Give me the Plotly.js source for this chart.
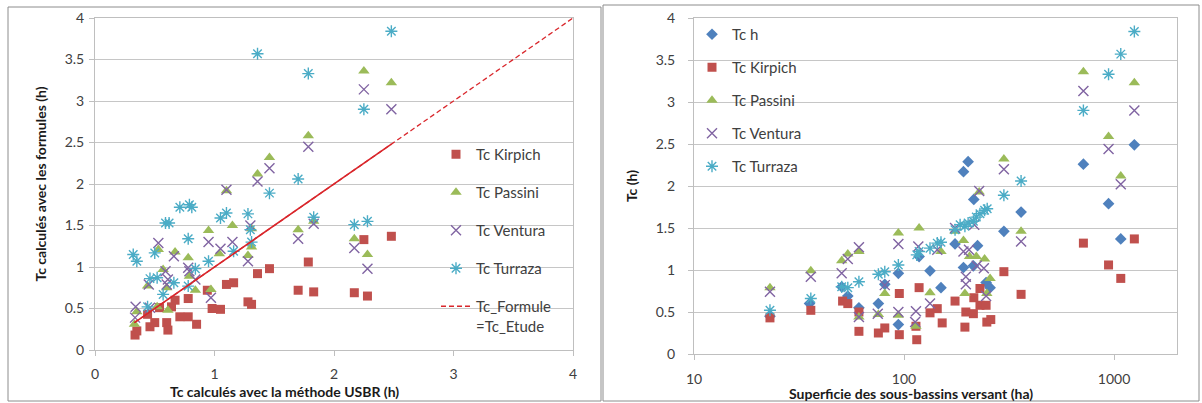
<!DOCTYPE html>
<html>
<head>
<meta charset="utf-8">
<script src="https://cdn.plot.ly/plotly-3.0.1.min.js"></script>
<style>html,body{margin:0;padding:0;background:#fff;}#chart{width:1202px;height:403px;}</style>
</head>
<body>
<div id="chart"></div>
<script>
// ---------- Left panel: Tc from formulas vs Tc USBR (h) ----------
const kirpichL_x = [0.335,0.35,0.44,0.46,0.50,0.54,0.60,0.61,0.64,0.67,0.71,0.78,0.78,0.85,0.94,0.98,1.05,1.10,1.16,1.28,1.31,1.36,1.46,1.70,1.785,1.83,2.17,2.25,2.28,2.48];
const kirpichL_y = [0.18,0.23,0.43,0.28,0.33,0.51,0.33,0.24,0.52,0.60,0.40,0.40,0.62,0.31,0.72,0.50,0.49,0.79,0.81,0.58,0.55,0.92,0.98,0.72,1.06,0.70,0.69,1.33,0.65,1.37];

const passiniL_x = [0.33,0.35,0.44,0.52,0.53,0.57,0.60,0.61,0.67,0.78,0.79,0.84,0.95,0.97,1.04,1.10,1.15,1.28,1.31,1.31,1.36,1.46,1.70,1.785,1.83,2.17,2.25,2.28,2.48];
const passiniL_y = [0.31,0.46,0.77,0.52,1.21,0.97,0.75,0.48,1.18,1.11,0.89,0.72,1.44,0.73,1.16,1.92,1.50,1.14,1.24,1.46,2.12,2.32,1.45,2.58,1.55,1.34,3.36,1.15,3.22];

const venturaL_x = [0.335,0.34,0.45,0.46,0.53,0.59,0.60,0.61,0.66,0.78,0.79,0.84,0.95,0.97,1.05,1.10,1.15,1.28,1.30,1.36,1.46,1.70,1.785,1.83,2.17,2.25,2.28,2.48];
const venturaL_y = [0.39,0.52,0.79,0.51,1.29,0.95,0.79,0.85,1.13,0.99,0.95,0.85,1.30,0.63,1.22,1.93,1.30,1.07,1.50,2.03,2.19,1.34,2.45,1.52,1.23,3.14,0.98,2.90];

const turrazaL_x = [0.32,0.35,0.44,0.46,0.50,0.52,0.57,0.59,0.62,0.66,0.71,0.78,0.78,0.79,0.81,0.84,0.95,1.05,1.10,1.16,1.28,1.30,1.31,1.36,1.46,1.70,1.785,1.83,2.17,2.25,2.28,2.48];
const turrazaL_y = [1.15,1.07,0.52,0.86,1.17,0.87,0.67,1.53,1.53,0.81,1.72,0.77,1.34,1.75,1.72,0.98,1.07,1.59,1.65,1.19,1.64,1.45,1.30,3.57,1.89,2.06,3.33,1.60,1.51,2.90,1.55,3.84];

const lineSolid_x = [0.33, 2.48];
const lineDash_x = [0.33, 4];

// ---------- Right panel: Tc (h) vs sub-basin area (ha) ----------
const tcH_area = [23,35.5,50.5,54,61,75.5,81,94,94,118,133,150,175,192,192,202,214,215,224,246,257,299,361,715,942,1077,1250];
const tcH_val  = [0.45,0.60,0.80,0.69,0.55,0.60,0.83,0.96,0.35,1.16,0.99,0.79,1.31,2.17,1.03,2.29,1.05,1.84,1.29,0.85,0.79,1.46,1.69,2.26,1.79,1.37,2.49];

const kirpichR_area = [23,36,51,54,61,61,75.5,81,95,95,118,114,115,133,144,152,175,195,197,214,215,230,230,246,248,259,299,361,715,942,1077,1250];
const kirpichR_val  = [0.43,0.52,0.63,0.60,0.50,0.27,0.25,0.31,0.72,0.23,0.79,0.33,0.17,0.49,0.54,0.37,0.63,0.32,0.50,0.48,0.67,0.78,0.58,0.58,0.38,0.41,0.98,0.71,1.32,1.06,0.90,1.37];

const passiniR_area = [23,36,50.5,54,61,61,75.5,81,94,94,118,114,133,150,175,192,195,205,221,228,242,248,257,299,361,715,942,1077,1250];
const passiniR_val  = [0.79,0.99,1.11,1.19,1.22,0.44,0.47,0.72,1.44,0.46,1.50,0.33,0.73,1.22,1.46,1.35,0.72,1.16,1.16,1.93,1.13,0.72,0.90,2.32,1.46,3.36,2.59,2.12,3.23];

const venturaR_area = [23,36,50.5,54,61,61,75,81,94,94,117,114,113,133,144,175,192,197,197,204,216,222,228,240,246,299,361,715,942,1077,1250];
const venturaR_val  = [0.74,0.92,0.96,1.13,1.27,0.44,0.48,0.82,1.31,0.50,1.28,0.51,0.38,0.60,1.24,1.50,1.22,0.92,0.83,1.24,1.54,1.05,1.94,1.02,0.69,2.20,1.34,3.13,2.44,2.02,2.90];

const turrazaR_area = [23,36,50.5,54,61,75.5,81,94,115,118,133,144,150,175,185,195,202,214,221,230,242,249,299,361,715,942,1077,1250];
const turrazaR_val  = [0.52,0.66,0.80,0.79,0.86,0.95,0.98,1.06,1.18,1.22,1.26,1.32,1.33,1.48,1.54,1.52,1.56,1.58,1.63,1.67,1.71,1.73,1.89,2.06,2.90,3.33,3.57,3.84];

// ---------- Labels ----------
const legendNames = ["Tc h","Tc Kirpich","Tc Passini","Tc Ventura","Tc Turraza"];
const lineName = "Tc_Formule<br>=Tc_Etude";
const xTitleLeft = "Tc calculés avec la méthode USBR (h)";
const yTitleLeft = "Tc calculés avec les formules (h)";
const xTitleRight = "Superficie des sous-bassins versant (ha)";
const yTitleRight = "Tc (h)";
const logTicks = [10,100,1000];

const C = {h:'#4F81BD', k:'#C0504D', p:'#9BBB59', v:'#8064A2', t:'#4BACC6', line:'#D9262B'};
const FONT = 'Lato, "Open Sans", sans-serif';

function mk(x,y,name,sym,color,size,xa,ya,leg,open){
  const m = {symbol:sym,size:size,color:color};
  if(open){ m.line={color:color,width:1.4}; }
  return {type:'scatter',mode:'markers',x:x,y:y,name:name,xaxis:xa,yaxis:ya,marker:m,
          legend:leg,legendgroup:leg+name,hoverinfo:'x+y'};
}

const traces = [
  mk(kirpichL_x,kirpichL_y,legendNames[1],'square',C.k,9,'x','y','legend',false),
  mk(passiniL_x,passiniL_y,legendNames[2],'triangle-up',C.p,10,'x','y','legend',false),
  mk(venturaL_x,venturaL_y,legendNames[3],'x-thin-open',C.v,10,'x','y','legend',true),
  mk(turrazaL_x,turrazaL_y,legendNames[4],'asterisk-open',C.t,10,'x','y','legend',true),
  {type:'scatter',mode:'lines',x:lineDash_x,y:lineDash_x,name:lineName,xaxis:'x',yaxis:'y',
   line:{color:C.line,width:1.3,dash:'5px,3px'},legend:'legend',legendgroup:'legendline',hoverinfo:'skip'},
  {type:'scatter',mode:'lines',x:lineSolid_x,y:lineSolid_x,showlegend:false,xaxis:'x',yaxis:'y',
   line:{color:C.line,width:1.6},hoverinfo:'skip'},
  mk(tcH_area,tcH_val,legendNames[0],'diamond',C.h,9,'x2','y2','legend2',false),
  mk(kirpichR_area,kirpichR_val,legendNames[1],'square',C.k,9,'x2','y2','legend2',false),
  mk(passiniR_area,passiniR_val,legendNames[2],'triangle-up',C.p,10,'x2','y2','legend2',false),
  mk(venturaR_area,venturaR_val,legendNames[3],'x-thin-open',C.v,10,'x2','y2','legend2',true),
  mk(turrazaR_area,turrazaR_val,legendNames[4],'asterisk-open',C.t,10,'x2','y2','legend2',true)
];

const W=1202,H=403;
const px=v=>v/W, py=v=>1-v/H;
const tickFont={family:FONT,size:14,color:'#404040'};
const titleFont={family:FONT,size:14,color:'#1a1a1a',weight:'bold'};
const axCommon={showline:true,linecolor:'#bfbfbf',linewidth:1,mirror:true,ticks:'outside',ticklen:5,
  tickcolor:'#bfbfbf',tickfont:tickFont,zeroline:false,fixedrange:true,automargin:false};

const layout = {
  width:W,height:H,margin:{l:0,r:0,t:0,b:0},paper_bgcolor:'#fff',plot_bgcolor:'#fff',
  font:{family:FONT},
  xaxis:Object.assign({},axCommon,{domain:[px(95),px(573)],range:[0,4],dtick:1,showgrid:false,anchor:'y',ticklabelstandoff:6}),
  yaxis:Object.assign({},axCommon,{domain:[py(350),py(18)],range:[0,4],dtick:0.5,showgrid:true,gridcolor:'#c6c6c6',anchor:'x',
    ticklabelstandoff:2,title:{text:yTitleLeft,font:titleFont,standoff:14}}),
  xaxis2:Object.assign({},axCommon,{type:'log',domain:[px(694),px(1177)],range:[1,3.3],tickvals:logTicks,ticktext:logTicks.map(String),
    showgrid:false,anchor:'y2',ticklabelstandoff:7}),
  yaxis2:Object.assign({},axCommon,{domain:[py(354),py(18)],range:[0,4],dtick:0.5,showgrid:true,gridcolor:'#c6c6c6',anchor:'x2',
    ticklabelstandoff:10,title:{text:yTitleRight,font:titleFont,standoff:14}}),
  legend:{x:px(436),y:py(138),xanchor:'left',yanchor:'top',bgcolor:'rgba(0,0,0,0)',font:{family:FONT,size:15,color:'#404040'},
    tracegroupgap:15.5,traceorder:'grouped',valign:'top'},
  legend2:{x:px(692),y:py(18),xanchor:'left',yanchor:'top',bgcolor:'rgba(0,0,0,0)',font:{family:FONT,size:15,color:'#404040'},
    tracegroupgap:10.5,traceorder:'grouped'},
  annotations:[
    {text:xTitleLeft,xref:'paper',yref:'paper',x:px(284),y:py(391),xanchor:'center',yanchor:'middle',showarrow:false,font:titleFont},
    {text:xTitleRight,xref:'paper',yref:'paper',x:px(911),y:py(393),xanchor:'center',yanchor:'middle',showarrow:false,font:titleFont}
  ],
  shapes:[
    {type:'rect',xref:'paper',yref:'paper',x0:px(8),x1:px(601),y0:py(401),y1:py(7),line:{color:'#8c8c8c',width:1}},
    {type:'rect',xref:'paper',yref:'paper',x0:px(603),x1:px(1199),y0:py(401),y1:py(5),line:{color:'#8c8c8c',width:1}}
  ],
  showlegend:true
};

Plotly.newPlot('chart',traces,layout,{displayModeBar:false,staticPlot:true});
</script>
</body>
</html>
